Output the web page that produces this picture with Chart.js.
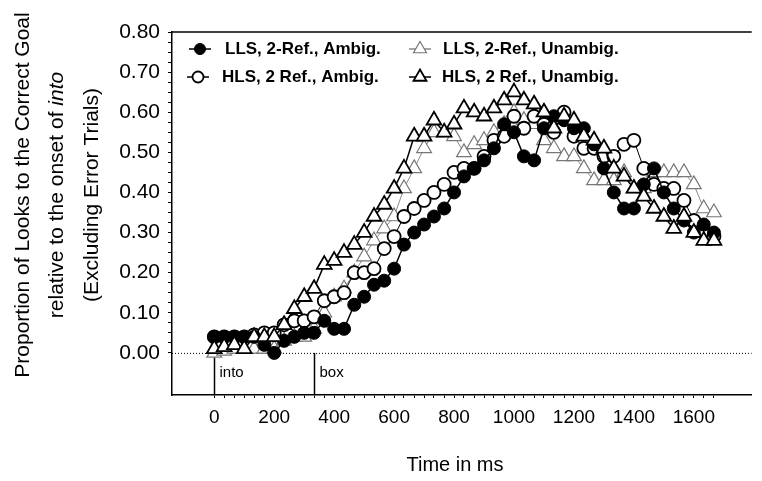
<!DOCTYPE html>
<html>
<head>
<meta charset="utf-8">
<script src="https://cdn.jsdelivr.net/npm/chart.js@4"></script>
<style>
  body { margin: 0; background: #fff; }
  canvas { display: block; }
</style>
</head>
<body>
<canvas id="myChart" width="762" height="481"></canvas>
<script>
// time bins (ms), one per video frame
const timeMs = [0, 33, 67, 100, 133, 167, 200, 233, 267, 300, 333, 367, 400, 433, 467, 500,
  533, 567, 600, 633, 667, 700, 733, 767, 800, 833, 867, 900, 933, 967, 1000, 1033, 1067,
  1100, 1133, 1167, 1200, 1233, 1267, 1300, 1333, 1367, 1400, 1433, 1467, 1500, 1533, 1567,
  1600, 1633, 1667];

const seriesNames = ['LLS, 2-Ref., Ambig.', 'HLS, 2 Ref., Ambig.', 'LLS, 2-Ref., Unambig.', 'HLS, 2 Ref., Unambig.'];

const llsAmbig = [0.04, 0.04, 0.04, 0.04, 0.04, 0.02, 0.00, 0.03, 0.04, 0.05, 0.05, 0.08, 0.06,
  0.06, 0.12, 0.14, 0.17, 0.18, 0.21, 0.27, 0.30, 0.32, 0.34, 0.36, 0.40, 0.44, 0.46, 0.48,
  0.51, 0.57, 0.55, 0.49, 0.48, 0.56, 0.59, 0.58, 0.56, 0.56, 0.52, 0.46, 0.40, 0.36, 0.36,
  0.42, 0.46, 0.40, 0.36, 0.33, 0.30, 0.32, 0.30];

const hlsAmbig = [0.04, 0.04, 0.04, 0.04, 0.045, 0.05, 0.05, 0.07, 0.08, 0.08, 0.09, 0.13, 0.14,
  0.15, 0.20, 0.20, 0.21, 0.26, 0.29, 0.34, 0.36, 0.38, 0.40, 0.42, 0.45, 0.46, 0.46, 0.49,
  0.53, 0.54, 0.59, 0.56, 0.59, 0.57, 0.55, 0.60, 0.54, 0.51, 0.51, 0.49, 0.49, 0.52, 0.53,
  0.46, 0.42, 0.41, 0.41, 0.38, 0.33, 0.30, 0.29];

const llsUnambig = [0.00, 0.005, 0.01, 0.01, 0.01, 0.01, 0.01, 0.03, 0.04, 0.04, 0.06, 0.10, 0.14,
  0.16, 0.20, 0.24, 0.28, 0.31, 0.34, 0.41, 0.46, 0.51, 0.55, 0.55, 0.54, 0.50, 0.52, 0.53,
  0.55, 0.57, 0.60, 0.58, 0.57, 0.53, 0.51, 0.49, 0.49, 0.46, 0.43, 0.43, 0.43, 0.45, 0.41,
  0.41, 0.45, 0.45, 0.45, 0.45, 0.42, 0.36, 0.35];

const hlsUnambig = [0.01, 0.015, 0.02, 0.01, 0.04, 0.04, 0.04, 0.07, 0.11, 0.14, 0.16, 0.22, 0.23,
  0.25, 0.27, 0.30, 0.34, 0.37, 0.41, 0.46, 0.54, 0.54, 0.58, 0.55, 0.57, 0.61, 0.60, 0.59,
  0.61, 0.63, 0.65, 0.63, 0.62, 0.60, 0.56, 0.59, 0.58, 0.54, 0.53, 0.51, 0.46, 0.44, 0.41,
  0.39, 0.36, 0.34, 0.31, 0.34, 0.30, 0.28, 0.28];

const markers = [
  { t: 0, label: 'into' },
  { t: 333, label: 'box' }
];

const FONT = "'Liberation Sans', Arial, sans-serif";

function pts(vals) {
  return vals.map((v, i) => ({ x: timeMs[i], y: v }));
}

// reference lines, onset markers, legend and axis titles
const extras = {
  id: 'extras',
  beforeDatasetsDraw(chart) {
    const { ctx, chartArea: a, scales: { x, y } } = chart;
    const y0 = y.getPixelForValue(0);
    ctx.save();
    ctx.strokeStyle = '#000';
    ctx.lineWidth = 1;
    ctx.setLineDash([1, 2]);
    ctx.beginPath();
    ctx.moveTo(a.left, y0 + 0.5);
    ctx.lineTo(a.right, y0 + 0.5);
    ctx.stroke();
    ctx.setLineDash([]);
    ctx.lineWidth = 1.5;
    ctx.font = '15px ' + FONT;
    ctx.fillStyle = '#000';
    ctx.textBaseline = 'middle';
    markers.forEach(m => {
      const px = Math.round(x.getPixelForValue(m.t)) + 0.5;
      ctx.beginPath();
      ctx.moveTo(px, y0);
      ctx.lineTo(px, a.bottom);
      ctx.stroke();
      ctx.fillText(m.label, px + 5, y0 + 20);
    });
    // top frame line
    ctx.lineWidth = 1.5;
    ctx.beginPath();
    ctx.moveTo(a.left, a.top);
    ctx.lineTo(a.right, a.top);
    ctx.stroke();
    ctx.restore();
  },
  afterDraw(chart) {
    const { ctx } = chart;
    ctx.save();
    // legend
    const spots = [
      { ds: 0, x: 200, y: 49, tx: 225 },
      { ds: 1, x: 198, y: 77, tx: 222 },
      { ds: 2, x: 420, y: 49, tx: 443 },
      { ds: 3, x: 420, y: 77, tx: 442 }
    ];
    ctx.font = 'bold 17px ' + FONT;
    ctx.textBaseline = 'middle';
    spots.forEach(s => {
      const d = chart.data.datasets[s.ds];
      ctx.strokeStyle = d.borderColor;
      ctx.lineWidth = 1.5;
      ctx.beginPath();
      ctx.moveTo(s.x - 11, s.y);
      ctx.lineTo(s.x + 11, s.y);
      ctx.stroke();
      ctx.fillStyle = d.pointBackgroundColor;
      ctx.strokeStyle = d.pointBorderColor;
      ctx.lineWidth = d.pointBorderWidth;
      Chart.helpers.drawPoint(ctx, {
        pointStyle: d.pointStyle, rotation: 0,
        radius: d.pointRadius - 1, borderWidth: d.pointBorderWidth
      }, s.x, s.y);
      ctx.fillStyle = '#000';
      ctx.fillText(d.label, s.tx, s.y);
    });
    // x title
    ctx.font = '20px ' + FONT;
    ctx.textAlign = 'center';
    ctx.fillText('Time in ms', 455, 465);
    // y title
    ctx.translate(0, 195);
    ctx.rotate(-Math.PI / 2);
    ctx.font = '21px ' + FONT;
    ctx.fillText('Proportion of Looks to the Correct Goal', 0, 23);
    ctx.fillText('(Excluding Error Trials)', 0, 92);
    const part1 = 'relative to the onset of ';
    ctx.textAlign = 'left';
    const w1 = ctx.measureText(part1).width;
    ctx.font = 'italic 21px ' + FONT;
    const w2 = ctx.measureText('into').width;
    ctx.font = '21px ' + FONT;
    ctx.fillText(part1, -(w1 + w2) / 2, 57);
    ctx.font = 'italic 21px ' + FONT;
    ctx.fillText('into', -(w1 + w2) / 2 + w1, 57);
    ctx.restore();
  }
};

const data = {
  datasets: [
    {
      label: seriesNames[0], data: pts(llsAmbig), order: 1,
      borderColor: '#000', borderWidth: 1.5, pointStyle: 'circle', pointRadius: 6.5,
      pointBackgroundColor: '#000', pointBorderColor: '#000', pointBorderWidth: 1
    },
    {
      label: seriesNames[1], data: pts(hlsAmbig), order: 2,
      borderColor: '#000', borderWidth: 1, pointStyle: 'circle', pointRadius: 6.5,
      pointBackgroundColor: '#fff', pointBorderColor: '#000', pointBorderWidth: 1.8
    },
    {
      label: seriesNames[2], data: pts(llsUnambig), order: 3,
      borderColor: '#888', borderWidth: 1, pointStyle: 'triangle', pointRadius: 8.5,
      pointBackgroundColor: '#fff', pointBorderColor: '#777', pointBorderWidth: 1.2
    },
    {
      label: seriesNames[3], data: pts(hlsUnambig), order: 0,
      borderColor: '#000', borderWidth: 1.5, pointStyle: 'triangle', pointRadius: 8.5,
      pointBackgroundColor: '#fff', pointBorderColor: '#000', pointBorderWidth: 1.8
    }
  ]
};

const config = {
  type: 'line',
  data: data,
  options: {
    responsive: false,
    animation: false,
    devicePixelRatio: 1,
    layout: { padding: { top: 32, left: 0, right: 0, bottom: 0 } },
    plugins: { legend: { display: false }, tooltip: { enabled: false } },
    elements: { line: { tension: 0 } },
    scales: {
      x: {
        type: 'linear', min: -141, max: 1793,
        afterFit(s) { s.height = 86; },
        afterBuildTicks(s) { s.ticks = timeMs.map(t => ({ value: t })); },
        ticks: {
          autoSkip: false, maxRotation: 0, color: '#000', padding: 8,
          font: { family: FONT, size: 19 },
          callback: v => (v % 200 === 0 ? String(v) : '')
        },
        grid: { drawOnChartArea: false, tickLength: 3, tickColor: '#000' },
        border: { color: '#000', width: 1.5 }
      },
      y: {
        min: -0.105, max: 0.8,
        afterFit(s) { s.width = 172; },
        afterBuildTicks(s) {
          const t = [];
          for (let k = 0; k <= 32; k++) t.push({ value: k * 25 / 1000 });
          s.ticks = t;
        },
        ticks: {
          autoSkip: false, color: '#000', padding: 8,
          font: { family: FONT, size: 21 },
          callback: v => (Math.abs(v * 10 - Math.round(v * 10)) < 1e-6 ? v.toFixed(2) : '')
        },
        grid: { drawOnChartArea: false, tickLength: 4, tickColor: '#000' },
        border: { color: '#000', width: 1.5 }
      }
    }
  },
  plugins: [extras]
};

var ctx = document.getElementById('myChart').getContext('2d');
var myNewChart = new Chart(ctx, config);
</script>
</body>
</html>
